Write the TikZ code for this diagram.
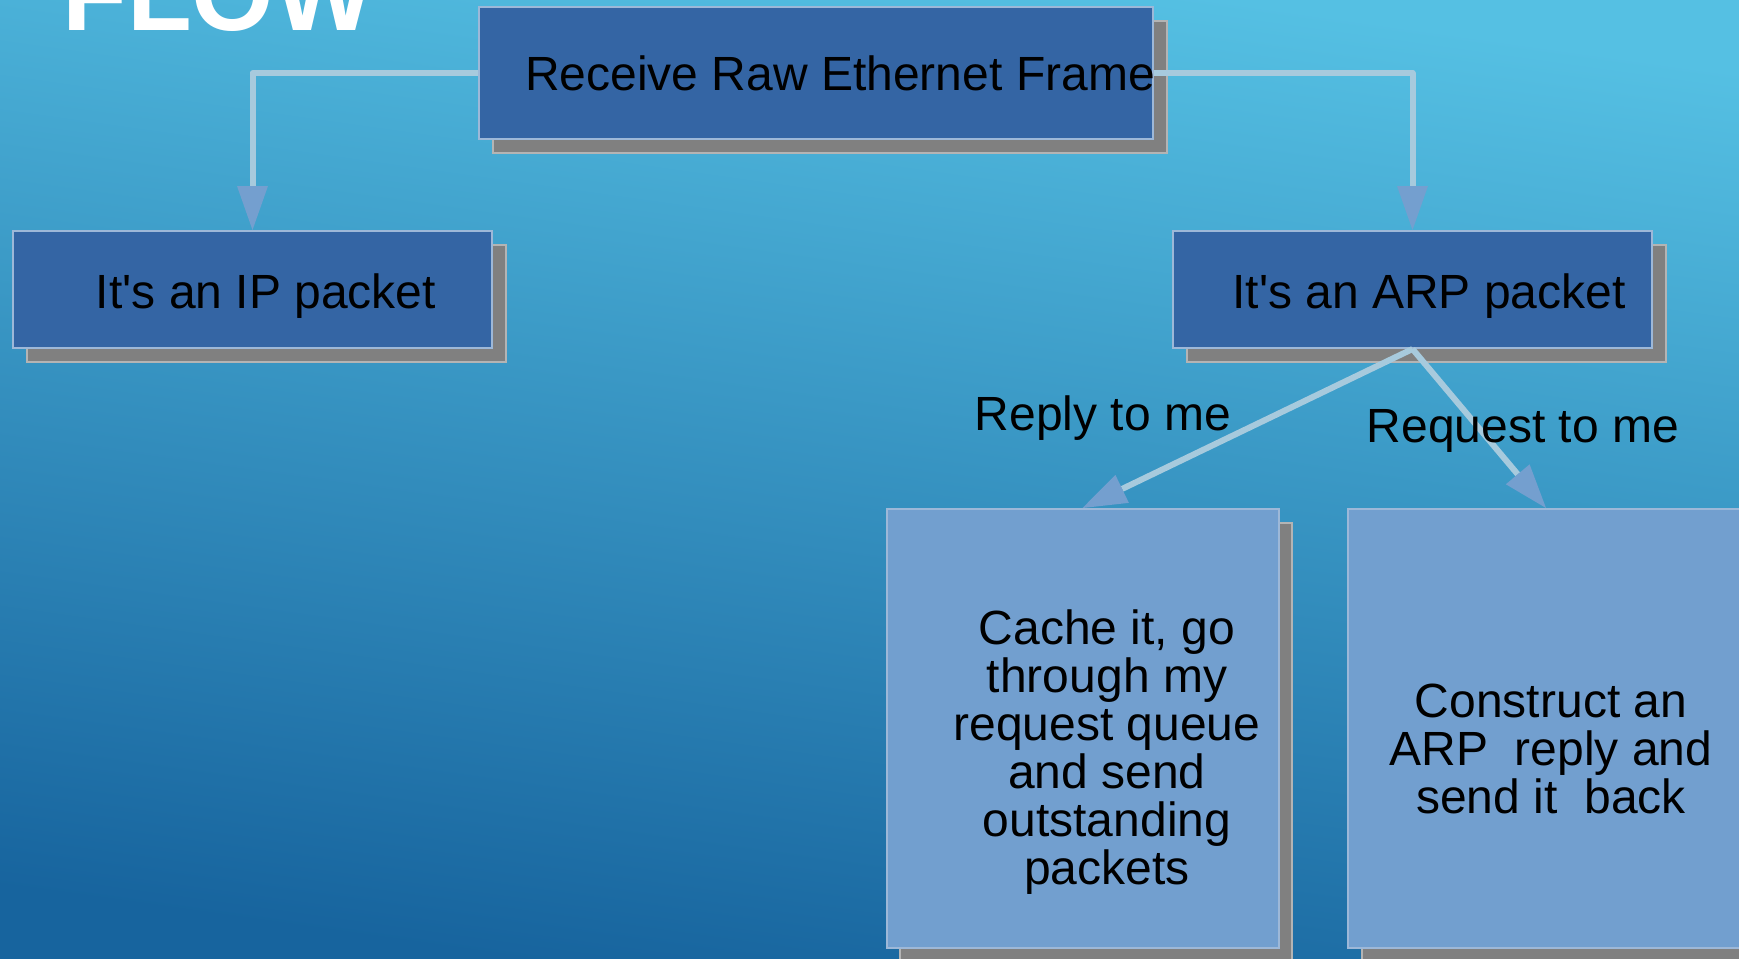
\documentclass[tikz,border=0pt]{standalone}
\usepackage{fontspec}
\setmainfont{Liberation Sans}
\usepackage{xcolor}
\usepackage{tikz}
\usetikzlibrary{arrows.meta,shadows}

\definecolor{bgtop}{HTML}{55C0E3}
\definecolor{bgmid}{HTML}{3FA4D0}
\definecolor{bgbot}{HTML}{17649E}
\definecolor{boxdark}{HTML}{3465A4}
\definecolor{boxlight}{HTML}{729FCF}
\definecolor{boxedge}{HTML}{9DB8D8}
\definecolor{shadowgray}{HTML}{808080}
\definecolor{shadowedge}{HTML}{B4B4B4}
\definecolor{linkblue}{HTML}{A7CADD}
\definecolor{tipblue}{HTML}{749FCF}

\begin{document}
\begin{tikzpicture}[x=0.5pt, y=-0.5pt,
  box/.style={rectangle, draw=boxedge, line width=1pt, fill=boxdark, inner sep=0pt,
              drop shadow={shadow xshift=6.75pt, shadow yshift=-6.75pt, opacity=1,
                           fill=shadowgray, draw=shadowedge, line width=1pt}},
  lbox/.style={box, fill=boxlight},
  txt/.style={font=\fontsize{24}{24}\selectfont, text=black, inner sep=0pt, align=center},
  ttl/.style={font=\fontsize{53}{53}\selectfont\bfseries, text=white, inner sep=0pt},
  conn/.style={draw=linkblue, line width=3pt, line join=round,
               -{Triangle[length=22pt, width=15.5pt, color=tipblue, fill=tipblue, line width=0pt]}},
]

%% background
\shade[top color=bgtop, middle color=bgmid, bottom color=bgbot, shading angle=-8]
  (0,0) rectangle (1739,958);
\useasboundingbox (0,0) rectangle (1739,958);

%% title
\node[ttl, anchor=base west] (flow) at (62,30) {FLOW};

%% boxes
\node[box, minimum width=337pt, minimum height=66pt] (frame) at (816,73) {};
\node[box, minimum width=239.5pt, minimum height=58.5pt] (ip) at (252.5,289.5) {};
\node[box, minimum width=239.5pt, minimum height=58.5pt] (arp) at (1412.5,289.5) {};
\node[lbox, minimum width=196pt, minimum height=219.5pt] (cache) at (1082.5,728.5) {};
\node[lbox, minimum width=198pt, minimum height=219.5pt] (construct) at (1546,728.5) {};

%% box texts
\node[txt] (frameTxt) at (840,73) {Receive Raw Ethernet Frame};
\node[txt, anchor=base] (ipTxt) at (266,308) {It\textquotesingle s an IP packet};
\node[txt, anchor=base] (arpTxt) at (1429,308) {It\textquotesingle s an ARP packet};
\node[txt] (cacheTxt) at (1107,752) {Cache it, go\\through my\\request queue\\and send\\outstanding\\packets};
\node[txt] (constructTxt) at (1551,749) {Construct an\\ARP\ \ reply and\\send it\ \ back};

%% connectors
\draw[conn] (frame.west) -| (ip.north);
\draw[conn] (frame.east) -| (arp.north);
\draw[conn] (arp.south) -- (cache.north);
\draw[conn] (arp.south) -- (construct.north);

%% connector labels
\node[txt] (replyLbl) at (1103,418) {Reply to me};
\node[txt] (requestLbl) at (1523,431) {Request to me};

\end{tikzpicture}
\end{document}
